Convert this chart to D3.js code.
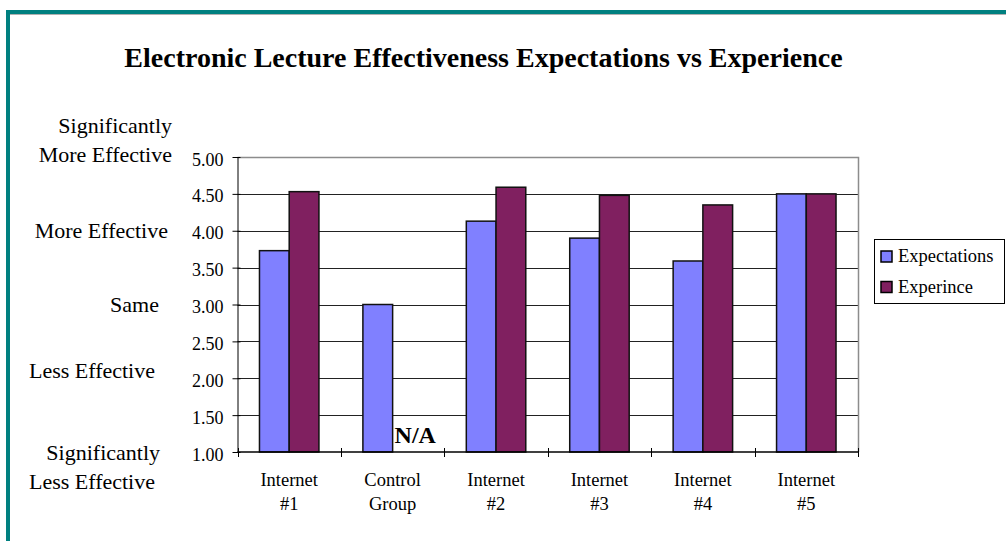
<!DOCTYPE html>
<html>
<head>
<meta charset="utf-8">
<script src="https://cdn.jsdelivr.net/npm/d3@7"></script>
<style>
  html, body { margin: 0; padding: 0; background: #fff; }
  svg { display: block; font-family: "Liberation Serif", "Times New Roman", serif; }
</style>
</head>
<body>
<svg id="chart" width="1006" height="541"></svg>
<script>
// data
const categories = [['Internet', '#1'], ['Control', 'Group'], ['Internet', '#2'], ['Internet', '#3'], ['Internet', '#4'], ['Internet', '#5']];
const seriesNames = ['Expectations', 'Experince'];
const expectations = [3.73, 3.0, 4.13, 3.90, 3.59, 4.50];
const experience = [4.53, null, 4.59, 4.48, 4.35, 4.50];
const yTicks = [1.0, 1.5, 2.0, 2.5, 3.0, 3.5, 4.0, 4.5, 5.0];
const ratingLabels = [
  { lines: ['Significantly', 'More Effective'], value: 5.0 },
  { lines: ['More  Effective'], value: 4.0 },
  { lines: ['Same'], value: 3.0 },
  { lines: ['Less Effective'], value: 2.1 },
  { lines: ['Significantly', 'Less Effective'], value: 1.0 }
];
const missingText = 'N/A';
const title = 'Electronic Lecture Effectiveness Expectations vs Experience';

const colors = ['#8080ff', '#802060'];
const svg = d3.select('#chart');

// outer frame (teal rule top and left)
svg.append('rect').attr('x', 6).attr('y', 10).attr('width', 1000).attr('height', 4).attr('fill', '#008080');
svg.append('rect').attr('x', 6).attr('y', 10).attr('width', 4).attr('height', 531).attr('fill', '#008080');
svg.append('line').attr('x1', 10).attr('x2', 1006).attr('y1', 14.5).attr('y2', 14.5).attr('stroke', '#b0b0b0');

const plot = { left: 237.5, right: 858, top: 157, bottom: 452 };

const y = d3.scaleLinear().domain([1, 5]).range([plot.bottom, plot.top]);
const x0 = d3.scaleBand()
  .domain(d3.range(categories.length))
  .range([plot.left, plot.right])
  .paddingInner(0.425)
  .paddingOuter(0.2125);
const x1 = d3.scaleBand().domain(seriesNames).range([0, x0.bandwidth()]);

// title
svg.append('text')
  .attr('x', 483.5).attr('y', 67)
  .attr('text-anchor', 'middle')
  .attr('font-size', 28).attr('font-weight', 'bold')
  .text(title);

// gridlines
svg.append('g')
  .selectAll('line')
  .data(yTicks.filter(d => d > 1 && d < 5))
  .join('line')
  .attr('x1', plot.left).attr('x2', plot.right)
  .attr('y1', d => Math.round(y(d)) + 0.5).attr('y2', d => Math.round(y(d)) + 0.5)
  .attr('stroke', '#222');

// plot border top and right (grey)
svg.append('path')
  .attr('d', `M${plot.left},${plot.top + 0.5}H${plot.right + 0.5}V${plot.bottom}`)
  .attr('fill', 'none').attr('stroke', '#8c8c8c').attr('stroke-width', 1.5);

// bars
const rows = categories.map((c, i) => ({ i, values: [expectations[i], experience[i]] }));
const groups = svg.append('g').selectAll('g')
  .data(rows)
  .join('g')
  .attr('transform', d => `translate(${x0(d.i)},0)`);

groups.selectAll('rect')
  .data(d => d.values.map((v, k) => ({ k, v })).filter(e => e.v != null))
  .join('rect')
  .attr('x', e => x1(seriesNames[e.k]))
  .attr('width', x1.bandwidth())
  .attr('y', e => y(e.v))
  .attr('height', e => y(1) - y(e.v))
  .attr('fill', e => colors[e.k])
  .attr('stroke', '#111').attr('stroke-width', 1.5);

// N/A where experience is missing
groups.filter(d => d.values[1] == null)
  .append('text')
  .attr('x', x1(seriesNames[1]) + 2)
  .attr('y', y(1) - 9)
  .attr('font-size', 24).attr('font-weight', 'bold')
  .text(missingText);

// y axis
const yAxis = svg.append('g')
  .attr('transform', `translate(${plot.left},0)`)
  .call(d3.axisLeft(y).tickValues(yTicks).tickFormat(d3.format('.2f')).tickSizeInner(5).tickSizeOuter(0))
  .attr('font-family', null).attr('font-size', 18);
yAxis.selectAll('.tick line').attr('x1', 3).attr('stroke', '#000');
yAxis.select('.domain').attr('stroke', '#000');
yAxis.selectAll('.tick text')
  .attr('x', -14).attr('dy', '0.45em')
  .attr('fill', '#000');

// x axis with ticks between groups
const boundaries = d3.range(categories.length + 1).map(i => plot.left + i * x0.step());
const xAxis = svg.append('g');
xAxis.append('line')
  .attr('x1', plot.left).attr('x2', plot.right + 1)
  .attr('y1', plot.bottom).attr('y2', plot.bottom)
  .attr('stroke', '#000').attr('stroke-width', 1.5);
xAxis.selectAll('line.t')
  .data(boundaries)
  .join('line')
  .attr('class', 't')
  .attr('x1', d => Math.round(d) + 0.5).attr('x2', d => Math.round(d) + 0.5)
  .attr('y1', plot.bottom - 4).attr('y2', plot.bottom + 5)
  .attr('stroke', '#000');

const catLabels = svg.append('g').selectAll('text')
  .data(categories)
  .join('text')
  .attr('text-anchor', 'middle')
  .attr('font-size', 18.5)
  .attr('y', 486);
catLabels.selectAll('tspan')
  .data((d, i) => d.map(line => ({ line, i })))
  .join('tspan')
  .attr('x', d => x0(d.i) + x0.bandwidth() / 2)
  .attr('dy', (d, j) => j === 0 ? 0 : 24)
  .text(d => d.line);

// rating labels on the left
const labelRight = [172, 168, 159, 155, 158];
ratingLabels.forEach((r, i) => {
  const n = r.lines.length;
  // top block ends on its value, bottom block starts below it
  let base = y(r.value) + 7;
  if (n > 1 && i === 0) base = y(r.value) + 5 - 29 * (n - 1);
  if (n > 1 && i === ratingLabels.length - 1) base = y(r.value) + 8;
  svg.append('text')
    .attr('font-size', 22)
    .attr('text-anchor', 'end')
    .selectAll('tspan')
    .data(r.lines)
    .join('tspan')
    .attr('x', (d, j) => (n > 1 && j === 0 && i === 0) ? 172 : (n > 1 && j === 0 ? 160 : labelRight[i] - (n > 1 && i > 0 ? 3 : 0)))
    .attr('y', (d, j) => base + j * 29)
    .text(d => d);
});

// legend
const legend = svg.append('g').attr('transform', 'translate(874,239)');
legend.append('rect')
  .attr('x', 0.5).attr('y', 0.5).attr('width', 130).attr('height', 64)
  .attr('fill', '#fff').attr('stroke', '#000');
const items = legend.selectAll('g')
  .data(seriesNames)
  .join('g')
  .attr('transform', (d, i) => `translate(7,${12 + i * 30.5})`);
items.append('rect')
  .attr('width', 11).attr('height', 11)
  .attr('fill', (d, i) => colors[i]).attr('stroke', '#000').attr('stroke-width', 1.5);
items.append('text')
  .attr('x', 17).attr('y', 11)
  .attr('font-size', 18.5)
  .text(d => d);
</script>
</body>
</html>
